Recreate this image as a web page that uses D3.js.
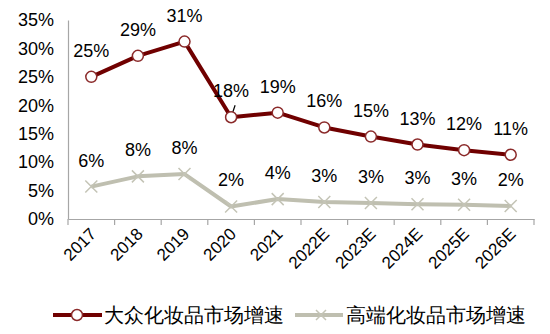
<!DOCTYPE html>
<html><head><meta charset="utf-8">
<script src="https://cdn.jsdelivr.net/npm/d3@7"></script>
<style>
html,body{margin:0;padding:0;background:#fff;}
text{font-family:"Liberation Sans",Arial,sans-serif;}
</style></head>
<body><svg id="c" width="550" height="334"></svg>
<script>
const categories = ["2017","2018","2019","2020","2021","2022E","2023E","2024E","2025E","2026E"];
const massValues = [25.0, 28.7, 31.2, 17.9, 18.7, 16.1, 14.5, 13.1, 12.1, 11.3];
const premiumValues = [5.7, 7.5, 7.9, 2.2, 3.5, 3.0, 2.8, 2.6, 2.5, 2.3];
const yTicks = [0, 5, 10, 15, 20, 25, 30, 35];
const seriesNames = ["大众化妆品市场增速", "高端化妆品市场增速"];

const svg = d3.select("#c");
const x = d3.scaleBand().domain(categories).range([68, 534]);
const y = d3.scaleLinear().domain([0, 35]).range([219, 20]);
const cx = d => x(d) + x.bandwidth() / 2;

// y axis
const ya = svg.append("g").attr("transform", "translate(68,0)")
  .call(d3.axisLeft(y).tickValues(yTicks).tickSize(0).tickPadding(14).tickFormat(d => d + "%"));
ya.select(".domain").attr("stroke", "#a6a6a6").attr("stroke-width", 1.2);
ya.selectAll("text").attr("font-size", 18).attr("fill", "#000").attr("font-family", "Liberation Sans, Arial, sans-serif");

// x axis
const xa = svg.append("g").attr("transform", "translate(0,219)")
  .call(d3.axisBottom(x).tickSize(0).tickFormat(d => d));
xa.select(".domain").attr("stroke", "#a6a6a6").attr("stroke-width", 1.2);
xa.selectAll(".tick line").remove();
// tick marks at band edges
const edges = categories.map(c => x(c)).concat([x(categories[categories.length - 1]) + x.bandwidth()]);
svg.append("g").selectAll("line").data(edges).join("line")
  .attr("x1", d => d).attr("x2", d => d).attr("y1", 219).attr("y2", 225)
  .attr("stroke", "#a6a6a6").attr("stroke-width", 1.2);
xa.selectAll("text")
  .attr("font-size", 17).attr("fill", "#000").attr("font-family", "Liberation Sans, Arial, sans-serif")
  .attr("text-anchor", "end").attr("dy", null).attr("y", 0)
  .attr("transform", "translate(6,16) rotate(-45)");

// lines
const line = d3.line().x((d, i) => cx(categories[i])).y(d => y(d));
svg.append("path").datum(premiumValues).attr("d", line)
  .attr("fill", "none").attr("stroke", "#bfbfb0").attr("stroke-width", 4).attr("stroke-linejoin", "round");
svg.append("path").datum(massValues).attr("d", line)
  .attr("fill", "none").attr("stroke", "#700000").attr("stroke-width", 4).attr("stroke-linejoin", "round");

// premium markers (x)
const xs = 6;
const pm = svg.append("g").selectAll("g").data(premiumValues).join("g")
  .attr("transform", (d, i) => `translate(${cx(categories[i])},${y(d)})`);
pm.append("path").attr("d", `M${-xs},${-xs}L${xs},${xs}M${-xs},${xs}L${xs},${-xs}`)
  .attr("stroke", "#c4c4b6").attr("stroke-width", 1.5).attr("fill", "none");

// leader line at 2020
svg.append("line")
  .attr("x1", cx("2020")).attr("y1", y(massValues[3]))
  .attr("x2", cx("2020") + 4).attr("y2", y(massValues[3]) - 12)
  .attr("stroke", "#000").attr("stroke-width", 1.2);

// mass markers
svg.append("g").selectAll("circle").data(massValues).join("circle")
  .attr("cx", (d, i) => cx(categories[i])).attr("cy", d => y(d)).attr("r", 5.5)
  .attr("fill", "#fff").attr("stroke", "#8b2a2a").attr("stroke-width", 1.5);

// labels
svg.append("g").selectAll("text").data(massValues).join("text")
  .attr("x", (d, i) => cx(categories[i])).attr("y", d => y(d) - 20)
  .attr("text-anchor", "middle").attr("font-size", 18).attr("fill", "#000")
  .text(d => Math.round(d) + "%");
svg.append("g").selectAll("text").data(premiumValues).join("text")
  .attr("x", (d, i) => cx(categories[i])).attr("y", d => y(d) - 20)
  .attr("text-anchor", "middle").attr("font-size", 18).attr("fill", "#000")
  .text(d => Math.round(d) + "%");

// legend
const lg = svg.append("g");
lg.append("line").attr("x1", 53).attr("x2", 102).attr("y1", 315).attr("y2", 315)
  .attr("stroke", "#700000").attr("stroke-width", 4);
lg.append("circle").attr("cx", 77).attr("cy", 315).attr("r", 5.5)
  .attr("fill", "#fff").attr("stroke", "#8b2a2a").attr("stroke-width", 1.5);
lg.append("text").attr("x", 104).attr("y", 322).attr("font-size", 20)
  .attr("font-family", "Noto Sans CJK SC").attr("fill", "#000").text(seriesNames[0]);
lg.append("line").attr("x1", 295).attr("x2", 343).attr("y1", 315).attr("y2", 315)
  .attr("stroke", "#bfbfb0").attr("stroke-width", 4);
lg.append("path").attr("d", `M${321 - 5},${310}L${321 + 5},${320}M${321 - 5},${320}L${321 + 5},${310}`)
  .attr("stroke", "#c4c4b6").attr("stroke-width", 1.5);
lg.append("text").attr("x", 346).attr("y", 322).attr("font-size", 20)
  .attr("font-family", "Noto Sans CJK SC").attr("fill", "#000").text(seriesNames[1]);
</script></body></html>
